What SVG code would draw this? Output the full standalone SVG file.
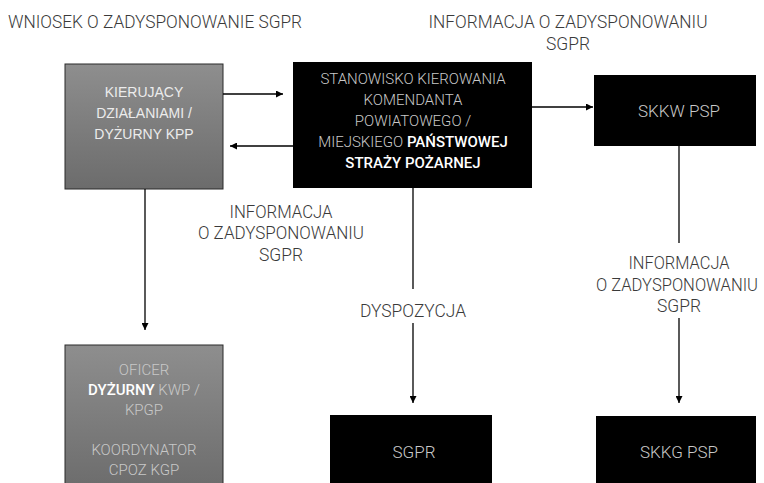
<svg xmlns="http://www.w3.org/2000/svg" width="764" height="483" viewBox="0 0 764 483">
<defs>
<linearGradient id="gray" x1="0" y1="0" x2="0" y2="1">
<stop offset="0" stop-color="#8e8e8e"/>
<stop offset="1" stop-color="#6c6c6c"/>
</linearGradient>
<marker id="ah" viewBox="0 0 8 8" refX="8" refY="4" markerWidth="7" markerHeight="7" markerUnits="userSpaceOnUse" orient="auto">
<path d="M0,0 L8,4 L0,8 z" fill="#000"/>
</marker>
</defs>
<style>
.lbl{font-family:Roboto,"Liberation Sans",sans-serif;font-weight:300;font-size:19px;fill:#3a3a3a;text-anchor:middle}
.gbox{fill:url(#gray);stroke:#2a2a2a;stroke-width:1}
.bbox{fill:#000}
.t1{font-family:"Liberation Sans",Arial,sans-serif;font-size:14px;fill:#ececec;text-anchor:middle}
.t2{font-family:Roboto,"Liberation Sans",sans-serif;font-weight:300;font-size:15px;fill:#c8c8c8;text-anchor:middle}
.tb{font-family:Roboto,"Liberation Sans",sans-serif;font-weight:500;fill:#ffffff}
.conn{stroke:#000;stroke-width:1.3;fill:none}
</style>
<rect width="764" height="483" fill="#fff"/>
<g id="labels">
<text x="8" y="28" class="lbl" style="text-anchor:start" textLength="294" lengthAdjust="spacingAndGlyphs">WNIOSEK O ZADYSPONOWANIE SGPR</text>
<text x="568" y="28" class="lbl" textLength="279" lengthAdjust="spacingAndGlyphs">INFORMACJA O ZADYSPONOWANIU</text>
<text x="568" y="50" class="lbl" textLength="44" lengthAdjust="spacingAndGlyphs">SGPR</text>
<text x="281" y="218" class="lbl" textLength="103" lengthAdjust="spacingAndGlyphs">INFORMACJA</text>
<text x="281" y="239" class="lbl" textLength="166" lengthAdjust="spacingAndGlyphs">O ZADYSPONOWANIU</text>
<text x="281" y="261" class="lbl" textLength="44" lengthAdjust="spacingAndGlyphs">SGPR</text>
<text x="413" y="317" class="lbl" textLength="106" lengthAdjust="spacingAndGlyphs">DYSPOZYCJA</text>
<text x="679" y="269" class="lbl" textLength="101" lengthAdjust="spacingAndGlyphs">INFORMACJA</text>
<text x="677" y="291" class="lbl" style="font-size:17.5px" textLength="162" lengthAdjust="spacingAndGlyphs">O ZADYSPONOWANIU</text>
<text x="679" y="312" class="lbl" textLength="44" lengthAdjust="spacingAndGlyphs">SGPR</text>
</g>
<g id="kpp">
<rect x="65" y="64" width="158" height="125" class="gbox"/>
<text x="144" y="97" class="t1">KIERUJĄCY</text>
<text x="144" y="118" class="t1">DZIAŁANIAMI /</text>
<text x="144" y="139" class="t1">DYŻURNY KPP</text>
</g>
<g id="skp">
<rect x="293" y="62" width="239" height="126" class="bbox"/>
<text x="413" y="84" class="t2">STANOWISKO KIEROWANIA</text>
<text x="413" y="105" class="t2">KOMENDANTA</text>
<text x="413" y="126" class="t2">POWIATOWEGO /</text>
<text x="413" y="147" class="t2">MIEJSKIEGO <tspan class="tb">PAŃSTWOWEJ</tspan></text>
<text x="413" y="168" class="t2 tb">STRAŻY POŻARNEJ</text>
</g>
<g id="skkw">
<rect x="594" y="75" width="162" height="71" class="bbox"/>
<text x="679" y="117" class="t2" style="font-size:17px">SKKW PSP</text>
</g>
<g id="oficer">
<rect x="65" y="345" width="158" height="145" class="gbox"/>
<text x="144" y="375" class="t2">OFICER</text>
<text x="144" y="395" class="t2"><tspan class="tb">DYŻURNY</tspan> KWP /</text>
<text x="144" y="415" class="t2">KPGP</text>
<text x="144" y="455" class="t2">KOORDYNATOR</text>
<text x="144" y="475" class="t2">CPOZ KGP</text>
</g>
<g id="sgpr">
<rect x="330" y="415" width="162" height="68" class="bbox"/>
<text x="414" y="458" class="t2" style="font-size:17px">SGPR</text>
</g>
<g id="skkg">
<rect x="596" y="416" width="160" height="67" class="bbox"/>
<text x="679" y="458" class="t2" style="font-size:17px">SKKG PSP</text>
</g>
<g id="connectors">
<line x1="223" y1="94" x2="283" y2="94" class="conn" marker-end="url(#ah)"/>
<line x1="293" y1="146" x2="230" y2="146" class="conn" marker-end="url(#ah)"/>
<line x1="145" y1="189" x2="145" y2="330" class="conn" marker-end="url(#ah)"/>
<line x1="532" y1="107" x2="593" y2="107" class="conn" marker-end="url(#ah)"/>
<line x1="413" y1="188" x2="413" y2="289" class="conn"/>
<line x1="413" y1="323" x2="413" y2="403" class="conn" marker-end="url(#ah)"/>
<line x1="679" y1="146" x2="679" y2="243" class="conn"/>
<line x1="679" y1="318" x2="679" y2="403" class="conn" marker-end="url(#ah)"/>
</g>
</svg>
